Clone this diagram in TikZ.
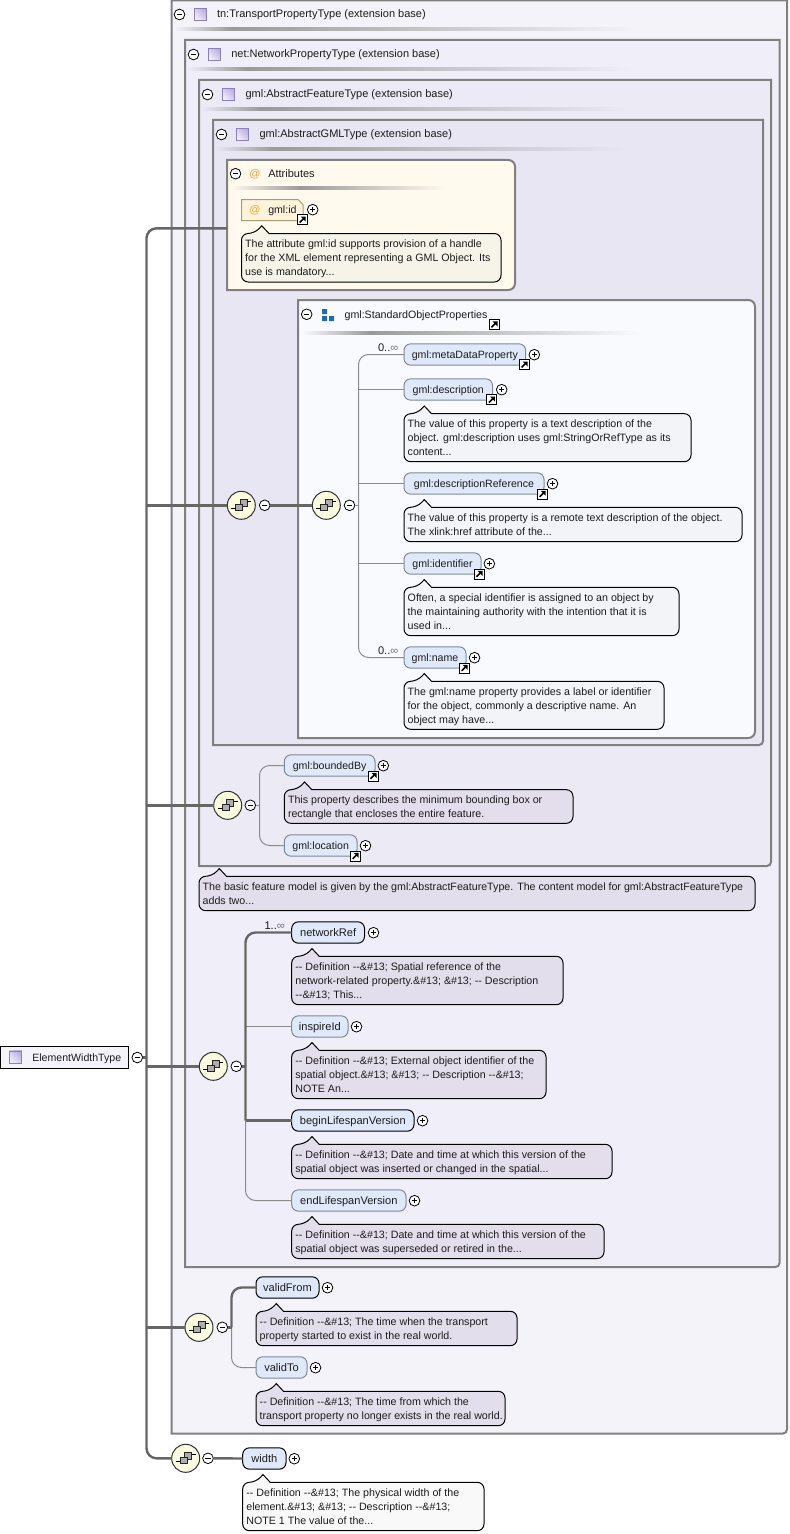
\documentclass[tikz,border=0pt]{standalone}
\usepackage{fontspec}
\setmainfont{Liberation Sans}
\definecolor{txt}{HTML}{1C1C1C}
\definecolor{frameC}{HTML}{808080}
\definecolor{fOne}{HTML}{F5F3FA}
\definecolor{fTwo}{HTML}{F0EEF8}
\definecolor{fThree}{HTML}{ECEAF5}
\definecolor{fFour}{HTML}{E9E6F4}
\definecolor{fAttr}{HTML}{FFF9EE}
\definecolor{fStd}{HTML}{F9FAFE}
\definecolor{conD}{HTML}{666666}
\definecolor{conL}{HTML}{8C8C8C}
\definecolor{elemF}{HTML}{DFE9F9}
\definecolor{elemB}{HTML}{7F8A96}
\definecolor{cStd}{HTML}{F3F4F8}
\definecolor{cFeat}{HTML}{E3DEEC}
\definecolor{cAttr}{HTML}{F6F4E8}
\definecolor{cWidth}{HTML}{F9F9F9}
\definecolor{seqF}{HTML}{FBFBE0}
\definecolor{iconB}{HTML}{8C7FBC}
\definecolor{iconL}{HTML}{F2F0FB}
\definecolor{iconD}{HTML}{B9AEDD}
\definecolor{attrIc}{HTML}{E9A63A}
\definecolor{attrB}{HTML}{A89C70}
\definecolor{attrF}{HTML}{FFF3DC}
\definecolor{grpIc}{HTML}{2468B0}
\definecolor{sepC}{HTML}{9A9A9A}
\newcommand\ftE{\fontsize{7.95}{10.5}\selectfont}
\newcommand\ftB{\fontsize{8.3}{10.5}\selectfont}
\newcommand\ftT{\fontsize{8.25}{10.5}\selectfont}
\newcommand\ftC{\fontsize{8}{10.5}\selectfont}
\tikzset{
  frameBox/.style={draw=frameC,line width=1.5pt},
  elembox/.style={draw=elemB,fill=elemF,line width=.75pt,rounded corners=5pt,inner sep=0pt,outer sep=0pt,
    minimum height=16pt,text height=7pt,text depth=1pt,font=\ftE,text=txt},
  must/.style={draw=black},
  bigT/.style={font=\ftB},
  cmtbox/.style={draw=black,line width=.75pt},
  cmttext/.style={anchor=north west,align=left,inner sep=0pt,outer sep=0pt,font=\ftC,text=txt},
  titleT/.style={anchor=base west,inner sep=0pt,font=\ftT,text=txt},
  togm/.style={circle,draw=black,fill=white,line width=.6pt,minimum size=8pt,inner sep=0pt,outer sep=0pt,
    path picture={\draw[line width=.6pt] ([xshift=-2pt]path picture bounding box.center) -- ([xshift=2pt]path picture bounding box.center);}},
  togp/.style={circle,draw=black,fill=white,line width=.6pt,minimum size=8pt,inner sep=0pt,outer sep=0pt,
    path picture={\draw[line width=.6pt] ([xshift=-2pt]path picture bounding box.center) -- ([xshift=2pt]path picture bounding box.center);
      \draw[line width=.6pt] ([yshift=-2pt]path picture bounding box.center) -- ([yshift=2pt]path picture bounding box.center);}},
  seqc/.style={circle,draw=black!80,fill=seqF,line width=.75pt,minimum size=21pt,inner sep=0pt,outer sep=0pt},
  ticon/.style={rectangle,draw=iconB,line width=.6pt,left color=iconL,right color=iconD,shading angle=135,
    minimum size=9.5pt,inner sep=0pt,outer sep=0pt},
  conT/.style={draw=conD,line width=1.8pt,rounded corners=7.5pt},
  conS/.style={draw=conL,line width=.75pt,rounded corners=7.5pt},
  mult/.style={anchor=base east,inner sep=0pt,font=\ftB,text=txt},
  scutb/.style={rectangle,draw=black,fill=white,line width=.7pt,minimum size=7.5pt,inner sep=0pt,outer sep=0pt}
}
\newcommand\ele[6]{\pgfmathsetmacro\tw{(#3-#2)*0.75}\pgfmathsetmacro\cx{(#2+#3)/2}%
  \node[elembox,#5,minimum width=\tw pt] (#1) at (\cx,#4) {#6};}
\newcommand\cmt[7]{\path[cmtbox,fill=#6] (#2+13,#4) -- (#2+20.3,#4-7.7) -- (#2+27.5,#4)
    [rounded corners=5pt] -- (#3,#4) -- (#3,#5) -- (#2,#5) -- (#2,#4) -- cycle;
  \node[cmttext] (#1) at (#2+3.7,#4+3.7) {\rule{0pt}{7.5pt}#7};}
\newcommand\seqn[3]{\node[seqc] (#1) at (#2,#3) {};
  \begin{scope}[shift={(#2,#3)}]
    \draw[draw=black!85,fill=black!32,line width=.55pt] (-1,-6) rectangle (6,1);
    \draw[draw=black!85,fill=black!32,line width=.55pt] (-5.5,-1) rectangle (1.5,5.5);
    \draw[black,line width=.8pt] (-10,3.5) -- (-5.5,3.5) (6,-3.5) -- (10,-3.5);
  \end{scope}}
\newcommand\scut[3]{\node[scutb] (#1) at (#2,#3) {};
  \begin{scope}[shift={(#2,#3)}]
    \draw[black,line width=1.2pt] (-2.8,2.8) -- (1.5,-1.5);
    \fill[black] (3.2,-3.2) -- (-1.8,-3.2) -- (3.2,1.8) -- cycle;
  \end{scope}}
\newcommand\sepr[5]{\shade[left color=#5,right color=sepC] (#1,#4-1.3) rectangle (#2,#4+1.3);
  \shade[left color=sepC,right color=#5] (#2,#4-1.3) rectangle (#3,#4+1.3);}
\begin{document}
\begin{tikzpicture}[x=.75pt,y=-.75pt]
\useasboundingbox (0,0) rectangle (789,1534);
\fill[white] (0,0) rectangle (789,1534);
% nested frames
\path[frameBox,fill=fOne] (171.5,0.5) -- (787,0.5) [rounded corners=3pt] -- (787,1433.5) [sharp corners] -- (171.5,1433.5) -- cycle;
\path[frameBox,fill=fTwo] (185,40) -- (779.5,40) [rounded corners=3pt] -- (779.5,1267) [sharp corners] -- (185,1267) -- cycle;
\path[frameBox,fill=fThree] (199,80) -- (771,80) [rounded corners=3pt] -- (771,866) [sharp corners] -- (199,866) -- cycle;
\path[frameBox,fill=fFour] (213,120) -- (763,120) [rounded corners=3pt] -- (763,745) [sharp corners] -- (213,745) -- cycle;
\path[frameBox,fill=fAttr] (227,290) -- (227,160) [rounded corners=5pt] -- (515,160) -- (515,290) [sharp corners] -- cycle;
\path[frameBox,fill=fStd] (298,738) -- (298,300) [rounded corners=5pt] -- (755,300) -- (755,738) [sharp corners] -- cycle;
% separators
\sepr{174}{232}{636}{29}{fOne}
\sepr{187}{246}{633}{69}{fTwo}
\sepr{201}{260}{630}{109}{fThree}
\sepr{215}{274}{628}{149}{fFour}
\sepr{231}{300}{445}{188}{fAttr}
\sepr{302}{370}{640}{333}{fStd}
% titles
\node[togm] (m1) at (179.5,14.5) {};
\node[ticon] (i1) at (200.5,14.5) {};
\node[titleT] (t1) at (216.8,18) {tn:TransportPropertyType (extension base)};
\node[togm] (m2) at (193.5,54.5) {};
\node[ticon] (i2) at (214.5,54.5) {};
\node[titleT] (t2) at (231,58) {net:NetworkPropertyType (extension base)};
\node[togm] (m3) at (207.5,94.5) {};
\node[ticon] (i3) at (228.5,94.5) {};
\node[titleT] (t3) at (245.3,98) {gml:AbstractFeatureType (extension base)};
\node[togm] (m4) at (221.5,134.5) {};
\node[ticon] (i4) at (242.5,134.5) {};
\node[titleT] (t4) at (259.3,138) {gml:AbstractGMLType (extension base)};
% attributes
\node[togm] (mA) at (235.5,173.7) {};
\node[titleT,text=attrIc] (atA) at (249,177.5) {@};
\node[titleT] (tA) at (268,177.5) {Attributes};
\path[draw=attrB,line width=.75pt,fill=attrF] (241.5,199.5) -- (298,199.5) -- (303,204.5) -- (303,220.5) -- (241.5,220.5) -- cycle;
\node[titleT,text=attrIc] (atId) at (249,213.5) {@};
\node[titleT,font=\ftE] (tId) at (268,213.5) {gml:id};
\scut{sId}{302.5}{219.7}
\node[togp] (pId) at (312.7,209.7) {};
\cmt{cId}{241.5}{501}{233.5}{282}{cAttr}{The attribute gml:id supports provision of a handle\\for the XML element representing a GML Object. Its\\use is mandatory...}
% standard object properties
\node[togm] (mS) at (306.7,314.3) {};
\fill[grpIc] (322,309) rectangle (327,314) (322,316) rectangle (327,321) (329,316) rectangle (334,321);
\node[titleT,font=\fontsize{8}{10.5}\selectfont] (tS) at (344.3,318) {gml:StandardObjectProperties};
\scut{sS}{494.3}{324.5}
% sequences at feature level
\seqn{q1}{241.3}{505.3}
\node[togm] (qm1) at (264.7,505.3) {};
\seqn{q2}{326.3}{505.3}
\node[togm] (qm2) at (349.5,505.3) {};
\coordinate (busS) at (358.5,505.3);
% elements in the standard group
\ele{eMeta}{404}{525.7}{354.5}{}{gml:metaDataProperty}
\scut{sMeta}{524.3}{364.7}
\node[togp] (pMeta) at (534.3,354.7) {};
\ele{eDesc}{404}{492.5}{389.5}{}{gml:description}
\scut{sDesc}{491.7}{399.7}
\node[togp] (pDesc) at (501.7,389.7) {};
\cmt{cDesc}{404}{691}{413.7}{461.7}{cStd}{The value of this property is a text description of the\\object. gml:description uses gml:StringOrRefType as its\\content...}
\ele{eRef}{404}{544}{483.5}{}{gml:descriptionReference}
\scut{sRef}{542.5}{494}
\node[togp] (pRef) at (552.5,483.7) {};
\cmt{cRef}{404}{742}{507.3}{541.7}{cStd}{The value of this property is a remote text description of the object.\\The xlink:href attribute of the...}
\ele{eIdent}{404}{481}{563.5}{}{gml:identifier}
\scut{sIdent}{479.3}{574}
\node[togp] (pIdent) at (489.3,563.7) {};
\cmt{cIdent}{404}{679}{587.3}{635.7}{cStd}{Often, a special identifier is assigned to an object by\\the maintaining authority with the intention that it is\\used in...}
\ele{eName}{404}{466}{657.5}{}{gml:name}
\scut{sName}{464.5}{668}
\node[togp] (pName) at (474.5,657.7) {};
\cmt{cName}{404}{664}{681.3}{729.3}{cStd}{The gml:name property provides a label or identifier\\for the object, commonly a descriptive name. An\\object may have...}
\node[mult] (mMeta) at (398.5,351) {0..{\color{black!55}∞}};
\node[mult] (mName) at (398.5,654) {0..{\color{black!55}∞}};
% feature
\seqn{q3}{227.7}{805.3}
\node[togm] (qm3) at (250.3,805.3) {};
\coordinate (busB) at (259.5,805.3);
\ele{eBound}{284.3}{375}{765.5}{}{gml:boundedBy}
\scut{sBound}{373.3}{776}
\node[togp] (pBound) at (383.3,765.7) {};
\cmt{cBound}{284.3}{573}{789.7}{823.3}{cFeat}{This property describes the minimum bounding box or\\rectangle that encloses the entire feature.}
\ele{eLoc}{284.3}{357}{845.5}{}{gml:location}
\scut{sLoc}{355.5}{856}
\node[togp] (pLoc) at (365.5,845.7) {};
\cmt{cFeatT}{199}{755}{876.3}{910.7}{cFeat}{The basic feature model is given by the gml:AbstractFeatureType. The content model for gml:AbstractFeatureType\\adds two...}
% network property
\seqn{q4}{213.3}{1066.3}
\node[togm] (qm4) at (236.3,1066.3) {};
\coordinate (busN) at (245.5,1066.3);
\ele{eNet}{291.7}{364.5}{932.5}{must,bigT}{networkRef}
\node[togp] (pNet) at (373.5,932.7) {};
\cmt{cNet}{291.7}{563}{956.3}{1004.7}{cFeat}{-{}- Definition -{}-\&\#13; Spatial reference of the\\network-related property.\&\#13; \&\#13; -{}- Description\\-{}-\&\#13; This...}
\ele{eIns}{291.7}{348}{1026.5}{bigT}{inspireId}
\node[togp] (pIns) at (356.5,1026.7) {};
\cmt{cIns}{291.7}{546}{1050.3}{1098.7}{cFeat}{-{}- Definition -{}-\&\#13; External object identifier of the\\spatial object.\&\#13; \&\#13; -{}- Description -{}-\&\#13;\\NOTE An...}
\ele{eBeg}{291.7}{414}{1120.5}{must,bigT}{beginLifespanVersion}
\node[togp] (pBeg) at (422.5,1120.7) {};
\cmt{cBeg}{291.7}{612}{1144.3}{1178.7}{cFeat}{-{}- Definition -{}-\&\#13; Date and time at which this version of the\\spatial object was inserted or changed in the spatial...}
\ele{eEnd}{291.7}{406}{1200.5}{bigT}{endLifespanVersion}
\node[togp] (pEnd) at (414.5,1200.7) {};
\cmt{cEnd}{291.7}{604}{1224.3}{1258.5}{cFeat}{-{}- Definition -{}-\&\#13; Date and time at which this version of the\\spatial object was superseded or retired in the...}
\node[mult] (mNet) at (285,929.3) {1..{\color{black!55}∞}};
% transport property
\seqn{q5}{199}{1327.3}
\node[togm] (qm5) at (222.3,1327.3) {};
\coordinate (busV) at (231.5,1327.3);
\ele{eFrom}{256}{319}{1287.5}{must,bigT}{validFrom}
\node[togp] (pFrom) at (327.5,1287.7) {};
\cmt{cFrom}{256}{517}{1311.3}{1345.7}{cFeat}{-{}- Definition -{}-\&\#13; The time when the transport\\property started to exist in the real world.}
\ele{eTo}{256}{307}{1367.5}{bigT}{validTo}
\node[togp] (pTo) at (315.5,1367.7) {};
\cmt{cTo}{256}{505}{1391.3}{1425.7}{cFeat}{-{}- Definition -{}-\&\#13; The time from which the\\transport property no longer exists in the real world.}
% root and width
\node[rectangle,draw=black,fill=fOne,line width=.75pt,minimum width=96.5pt,minimum height=16.5pt,inner sep=0pt,outer sep=0pt,anchor=west] (root) at (0,1057.3) {};
\node[ticon] (iRoot) at (15.5,1057.3) {};
\node[titleT,font=\ftE] (tRoot) at (32,1061) {ElementWidthType};
\node[togm] (mRoot) at (137.3,1057.5) {};
\coordinate (trunk) at (146.5,1057.5);
\coordinate (attrW) at (227,228.3);
\seqn{q6}{185.7}{1458.3}
\node[togm] (qm6) at (208,1458.3) {};
\ele{eWid}{242.7}{286}{1458.5}{must,bigT}{width}
\node[togp] (pWid) at (294.3,1458.7) {};
\cmt{cWid}{242.7}{484}{1482.3}{1530.7}{cWidth}{-{}- Definition -{}-\&\#13; The physical width of the\\element.\&\#13; \&\#13; -{}- Description -{}-\&\#13;\\NOTE 1 The value of the...}
% connectors: main trunk
\draw[conT] (attrW) -- (trunk |- attrW) -- (trunk |- q6.west) -- (q6.west);
\draw[conT] (mRoot.east) -- (trunk);
\draw[conT] (trunk |- q1.west) -- (q1.west);
\draw[conT] (trunk |- q3.west) -- (q3.west);
\draw[conT] (trunk |- q4.west) -- (q4.west);
\draw[conT] (trunk |- q5.west) -- (q5.west);
\draw[conT] (qm1.east) -- (q2.west);
\draw[conT] (qm6.east) -- (eWid.west);
% connectors: standard object properties
\draw[conS] (eMeta.west) -- (busS |- eMeta.west) -- (busS |- eName.west) -- (eName.west);
\draw[conS] (qm2.east) -- (busS);
\draw[conS] (busS |- eDesc.west) -- (eDesc.west);
\draw[conS] (busS |- eRef.west) -- (eRef.west);
\draw[conS] (busS |- eIdent.west) -- (eIdent.west);
% connectors: feature
\draw[conS] (eBound.west) -- (busB |- eBound.west) -- (busB |- eLoc.west) -- (eLoc.west);
\draw[conS] (qm3.east) -- (busB);
% connectors: network property
\draw[conS] (busN |- eBeg.west) -- (busN |- eEnd.west) -- (eEnd.west);
\draw[conS] (busN |- eIns.west) -- (eIns.west);
\draw[conT] (eNet.west) -- (busN |- eNet.west) -- (busN |- eBeg.west);
\draw[conT,rounded corners=0pt] (busN |- eBeg.west) -- (eBeg.west);
\draw[conT] (qm4.east) -- (busN);
% connectors: transport property
\draw[conS] (busV) -- (busV |- eTo.west) -- (eTo.west);
\draw[conT] (eFrom.west) -- (busV |- eFrom.west) -- (busV);
\draw[conT] (qm5.east) -- (busV);
\end{tikzpicture}
\end{document}
